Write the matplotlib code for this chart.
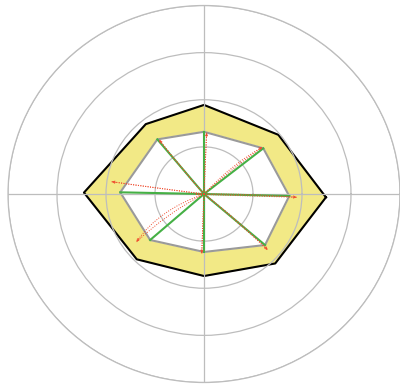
import numpy as np
import matplotlib.pyplot as plt
from matplotlib.path import Path
from matplotlib.patches import PathPatch

# outer envelope (black edge) and inner boundary (grey edge), angles in degrees
theta_outer = [358.4, 39.6, 90, 128.7, 179.3, 225.3, 270, 314.6]
r_outer = [2.49, 1.97, 1.89, 1.90, 2.45, 1.95, 1.74, 2.07]
theta_inner = [358.6, 38.7, 90, 129.4, 178.8, 221.6, 270, 319.0]
r_inner = [1.74, 1.55, 1.32, 1.50, 1.71, 1.47, 1.23, 1.65]

# red trajectories: end point and bezier control point
theta_red = [357.9, 39.8, 87.6, 128.5, 172.1, 216.4, 267.9, 317.6]
r_red = [1.89, 1.55, 1.30, 1.47, 1.90, 1.71, 1.26, 1.76]
theta_ctrl = [0.5, 47.9, 88.0, 131.0, 173.0, 200.0, 268.0, 322.0]
r_ctrl = [0.95, 0.90, 0.65, 0.75, 0.95, 1.00, 0.63, 0.90]

rings = [1, 2, 3, 4]

grid_col = "#bdbdbd"
red = "#ef4b2e"

fig = plt.figure(figsize=(4.0, 3.9), dpi=100)
ax = fig.add_axes([0.02, 0.0192, 0.98, 0.9667], projection="polar")
ax.set_aspect("auto")
ax.set_ylim(0, 4)
ax.set_rgrids(rings, labels=[""] * len(rings))
ax.set_thetagrids([0, 90, 180, 270], labels=[""] * 4)
ax.grid(True, color=grid_col, lw=0.9)
ax.spines["polar"].set_color(grid_col)
ax.spines["polar"].set_linewidth(0.9)
ax.set_axisbelow(False)

to = np.deg2rad(theta_outer + theta_outer[:1])
ro = r_outer + r_outer[:1]
ti = np.deg2rad(theta_inner + theta_inner[:1])
ri = r_inner + r_inner[:1]

ax.fill(to, ro, color="#f2e986", zorder=1)
ax.plot(to, ro, color="black", lw=1.5, zorder=1.5)
ax.fill(ti, ri, color="white", zorder=1.2)
ax.plot(ti, ri, color="#9a9a9a", lw=1.5, zorder=1.5)

# green spokes to the inner boundary
for t, r in zip(theta_inner, r_inner):
    ax.plot([np.deg2rad(t)] * 2, [0, r], color="#45b045", lw=1.5, zorder=3)

# red dotted trajectories with small arrow heads
for te, re_, tc, rc in zip(theta_red, r_red, theta_ctrl, r_ctrl):
    te_r, tc_r = np.deg2rad(te), np.deg2rad(tc)
    tm_r = np.deg2rad((te + tc) / 2)
    for ctrl in [(tc_r, rc), (tm_r, re_ / 2)]:
        path = Path([(0, 0), ctrl, (te_r, re_)],
                    [Path.MOVETO, Path.CURVE3, Path.CURVE3])
        ax.add_patch(PathPatch(path, fill=False, ec=red, lw=0.7,
                               ls=(0, (1, 1.5)), zorder=4))
    # arrow head along the last bit of the curve
    ex, ey = re_ * np.cos(te_r), re_ * np.sin(te_r)
    cx, cy = rc * np.cos(tc_r), rc * np.sin(tc_r)
    d = np.hypot(cx - ex, cy - ey)
    bx, by = ex + 0.08 * (cx - ex) / d, ey + 0.08 * (cy - ey) / d
    ax.annotate("", xy=(te_r, re_), xytext=(np.arctan2(by, bx), np.hypot(bx, by)),
                arrowprops=dict(arrowstyle="->", color=red, lw=0.6,
                                mutation_scale=4, shrinkA=0, shrinkB=0),
                zorder=4)

fig.savefig("out.png", dpi=100)
